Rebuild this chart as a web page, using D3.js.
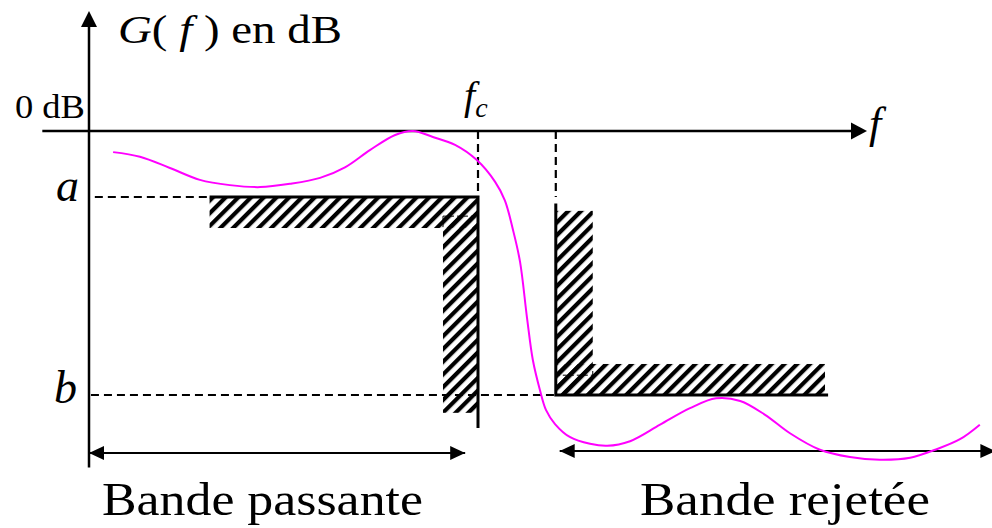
<!DOCTYPE html>
<html>
<head>
<meta charset="utf-8">
<script src="https://cdn.jsdelivr.net/npm/d3@7"></script>
<style>
  html, body { margin: 0; padding: 0; background: #fff; }
  svg { display: block; }
  text { font-family: "Liberation Serif", "Times New Roman", serif; fill: #000; }
</style>
</head>
<body>
<svg id="chart" width="992" height="528"></svg>
<script>
// Frequency in units of f_c, gain in dB
const fc = 1.0;          // cut-off frequency
const fs = 1.2;          // start of the stop band
const gainA = -10;       // pass-band minimum gain (a)
const gainB = -40;       // stop-band maximum gain (b)

// Pass-band template (hatched forbidden zone)
const passTop = { f0: 0.31, f1: fc, g0: gainA, g1: -14.7 };
const passSide = { f0: 0.91, f1: fc, g0: -12.9, g1: -42.7 };
const passWallBottom = -45;

// Stop-band template (hatched forbidden zone)
const stopSide = { f0: fs, f1: 1.295, g0: -12.1, g1: gainB };
const stopBottom = { f0: fs, f1: 1.892, g0: -35.3, g1: gainB };
const stopWallTop = -11;
const stopFloorEnd = 1.90;

// Example filter response G(f)
const respFreq = [0.062, 0.131, 0.208, 0.285, 0.362, 0.440, 0.517, 0.594, 0.658, 0.722,
  0.787, 0.833, 0.884, 0.941, 0.997, 1.044, 1.069, 1.090, 1.108, 1.126,
  1.141, 1.159, 1.175, 1.198, 1.237, 1.288, 1.332, 1.391, 1.468, 1.545,
  1.612, 1.674, 1.738, 1.802, 1.879, 1.956, 2.033, 2.111, 2.175, 2.239, 2.290];
const respGain = [-3.2, -3.9, -5.6, -7.4, -8.2, -8.5, -8.0, -7.1, -5.5, -2.9,
  -0.6, 0.0, -0.9, -2.1, -4.4, -7.7, -10.5, -15.0, -19.8, -28.3,
  -34.7, -39.2, -42.3, -44.4, -46.4, -47.4, -47.7, -47.0, -44.5, -42.0,
  -40.5, -40.9, -43.0, -45.8, -48.3, -49.4, -49.8, -49.5, -48.3, -46.7, -44.5];

// Axis extents and band arrows
const xAxisRange = [-0.12, 2.0];
const yAxisRange = [-51, 18.2];
const passArrow = { f0: 0.0, f1: 0.967, g: -48.8 };
const stopArrow = { f0: 1.21, f1: 2.33, g: -48.5 };
const aDashStart = 0.015;
const bDashStart = 0.005;

// Labels
const labels = { gain: ["G", "(", " f ", ")", " en dB"], zero: "0 dB", a: "a", b: "b",
  freq: "f", fcMain: "f", fcSub: "c", pass: "Bande passante", stop: "Bande rejetée" };

const svg = d3.select("#chart");
const x = d3.scaleLinear().domain([0, 2]).range([89, 867]);
const y = d3.scaleLinear().domain([0, -40]).range([131, 395]);

// Hatch pattern
const defs = svg.append("defs");
defs.append("pattern")
  .attr("id", "hatch")
  .attr("patternUnits", "userSpaceOnUse")
  .attr("width", 9).attr("height", 9)
  .attr("patternTransform", "rotate(45)")
  .append("rect")
  .attr("x", 0).attr("y", 0).attr("width", 4.2).attr("height", 9)
  .attr("fill", "#000");

const g = svg.append("g");

// Hatched zones
[passTop, passSide, stopSide, stopBottom].forEach(z => {
  g.append("rect")
    .attr("x", x(z.f0)).attr("y", y(z.g0))
    .attr("width", x(z.f1) - x(z.f0)).attr("height", y(z.g1) - y(z.g0))
    .attr("fill", "url(#hatch)");
});

// Thin dashed inner corners of the hatched zones
const innerDash = [
  [[passSide.f0, passSide.g0], [fc, passSide.g0]],
  [[passSide.f0, passSide.g0], [passSide.f0, passTop.g1]],
  [[fs, -37], [stopSide.f1, -37]],
  [[stopSide.f1, stopBottom.g0], [stopSide.f1, -37]]
];
const line = d3.line().x(d => x(d[0])).y(d => y(d[1]));
innerDash.forEach(p => {
  g.append("path").attr("d", line(p))
    .attr("stroke", "#000").attr("stroke-width", 1).attr("stroke-dasharray", "4,3")
    .attr("fill", "none");
});

// Dashed reference lines
const dashed = [
  [[aDashStart, gainA], [passTop.f0, gainA]],
  [[bDashStart, gainB], [fs, gainB]],
  [[fc, 0], [fc, gainA]],
  [[fs, 0], [fs, gainA]]
];
dashed.forEach(p => {
  g.append("path").attr("d", line(p))
    .attr("stroke", "#000").attr("stroke-width", 2.2).attr("stroke-dasharray", "8,5")
    .attr("fill", "none");
});

// Solid template borders
const solid = [
  [[passTop.f0, gainA], [fc, gainA], [fc, passWallBottom]],
  [[fs, stopWallTop], [fs, gainB], [stopFloorEnd, gainB]]
];
solid.forEach(p => {
  g.append("path").attr("d", line(p))
    .attr("stroke", "#000").attr("stroke-width", 3).attr("fill", "none");
});

// Axes
g.append("path").attr("d", line([[xAxisRange[0], 0], [xAxisRange[1] - 0.03, 0]]))
  .attr("stroke", "#000").attr("stroke-width", 2.5);
g.append("path").attr("d", line([[0, yAxisRange[0]], [0, yAxisRange[1] - 2]]))
  .attr("stroke", "#000").attr("stroke-width", 2.5);

// Arrowheads: tip position from the scales, fixed head shape
function head(tx, ty, dir, len, half) {
  let pts;
  if (dir === "up") pts = [[tx, ty], [tx - half, ty + len], [tx + half, ty + len]];
  else if (dir === "right") pts = [[tx, ty], [tx - len, ty - half], [tx - len, ty + half]];
  else pts = [[tx, ty], [tx + len, ty - half], [tx + len, ty + half]];
  g.append("path").attr("d", "M" + pts.map(p => p.join(",")).join("L") + "Z").attr("fill", "#000");
}
head(x(0), y(yAxisRange[1]), "up", 16, 8);
head(x(xAxisRange[1]), y(0), "right", 16, 8.5);

// Band arrows
[passArrow, stopArrow].forEach(a => {
  g.append("path").attr("d", line([[a.f0, a.g], [a.f1, a.g]]))
    .attr("stroke", "#000").attr("stroke-width", 2);
  head(x(a.f0), y(a.g), "left", 15, 7);
  head(x(a.f1), y(a.g), "right", 15, 7);
});

// Response curve
const resp = respFreq.map((f, i) => [f, respGain[i]]);
g.append("path")
  .attr("d", d3.line().x(d => x(d[0])).y(d => y(d[1])).curve(d3.curveCatmullRom.alpha(0.5))(resp))
  .attr("stroke", "#ff00ff").attr("stroke-width", 2).attr("fill", "none");

// Text helper: stretch a label horizontally to a given width
function fit(t, x0, width) {
  const w = t.node().getBBox().width;
  const base = +t.attr("y");
  t.attr("transform", `translate(${x0},0) scale(${width / w},1) translate(${-x0},0)`);
}

// Y axis title
const tG = svg.append("text").attr("x", 118).attr("y", 43).attr("font-size", 39);
labels.gain.forEach((s, i) => {
  tG.append("tspan").text(s).attr("font-style", (i === 0 || i === 2) ? "italic" : "normal");
});
fit(tG, 118, 224);

// 0 dB
const t0 = svg.append("text").attr("x", 15).attr("y", y(0) - 13).attr("font-size", 34).text(labels.zero);
fit(t0, 15, 70);

// a and b
svg.append("text").attr("x", 56).attr("y", y(gainA) + 4).attr("font-size", 46)
  .attr("font-style", "italic").text(labels.a);
svg.append("text").attr("x", 54).attr("y", y(gainB) + 8).attr("font-size", 46)
  .attr("font-style", "italic").text(labels.b);

// f_c
const tfc = svg.append("text").attr("x", x(fc) - 14).attr("y", 109).attr("font-size", 40).attr("font-style", "italic");
tfc.append("tspan").text(labels.fcMain);
tfc.append("tspan").attr("font-size", 28).attr("dy", 8).text(labels.fcSub);

// f on the frequency axis
svg.append("text").attr("x", 869).attr("y", 138).attr("font-size", 44)
  .attr("font-style", "italic").text(labels.freq);

// Band names
const tp = svg.append("text").attr("x", 102).attr("y", 515).attr("font-size", 46).text(labels.pass);
fit(tp, 102, 321);
const ts = svg.append("text").attr("x", 640).attr("y", 515).attr("font-size", 46).text(labels.stop);
fit(ts, 640, 290);
</script>
</body>
</html>
